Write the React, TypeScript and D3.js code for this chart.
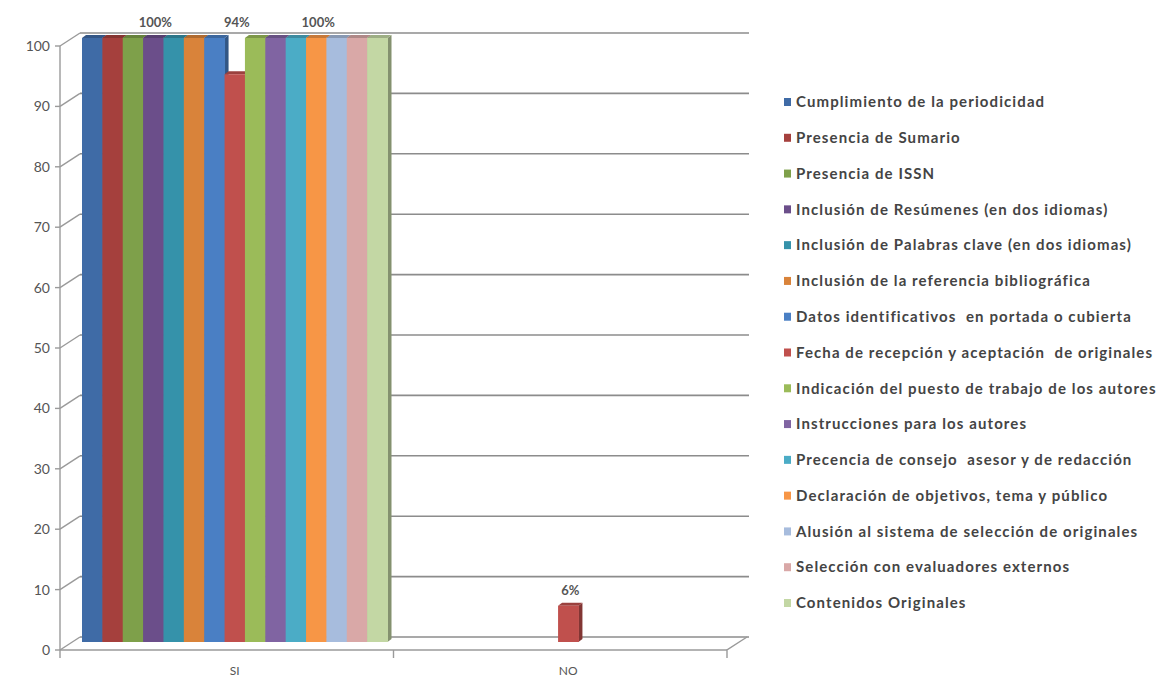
import React, { useRef, useEffect } from 'react';
import * as d3 from 'd3';

const CATEGORIES = ['SI', 'NO'];

const SERIES = [
  'Cumplimiento de la periodicidad',
  'Presencia de Sumario',
  'Presencia de ISSN',
  'Inclusión de Resúmenes (en dos idiomas)',
  'Inclusión de Palabras clave (en dos idiomas)',
  'Inclusión de la referencia bibliográfica',
  'Datos identificativos  en portada o cubierta',
  'Fecha de recepción y aceptación  de originales',
  'Indicación del puesto de trabajo de los autores',
  'Instrucciones para los autores',
  'Precencia de consejo  asesor y de redacción',
  'Declaración de objetivos, tema y público',
  'Alusión al sistema de selección de originales',
  'Selección con evaluadores externos',
  'Contenidos Originales',
];

const SI_VALUES = [100, 100, 100, 100, 100, 100, 100, 94, 100, 100, 100, 100, 100, 100, 100];
const NO_VALUES = [0, 0, 0, 0, 0, 0, 0, 6, 0, 0, 0, 0, 0, 0, 0];

const COLORS = [
  '#3f6ba6', '#a5403d', '#7ea04a', '#6b4e8a', '#3592aa', '#d9833a',
  '#4a7fc4', '#c0504d', '#9bbb59', '#8064a2', '#4bacc6', '#f79646',
  '#a7bcdd', '#d9a8a7', '#c3d7a4',
];

const Y_TICKS = [0, 10, 20, 30, 40, 50, 60, 70, 80, 90, 100];

// data labels kept on the chart (the rest were removed in the original)
const LABELS = [
  { category: 'SI', series: 3, text: '100%' },
  { category: 'SI', series: 7, text: '94%' },
  { category: 'SI', series: 11, text: '100%' },
  { category: 'NO', series: 7, text: '6%' },
];

const App: React.FC = () => {
  const svgRef = useRef<SVGSVGElement>(null);

  useEffect(() => {
    document.body.style.margin = '0';
    if (!svgRef.current) return;
    const svg = d3.select(svgRef.current);
    svg.selectAll('*').remove();

    const width = 1169;
    const height = 682;
    const font = 'Lato, "Open Sans", sans-serif';

    // 3D offsets
    const DX = 20, DY = -13;      // back wall
    const FX = 8, FY = -8;        // bar front face
    const SX = 4, SY = -3;        // bar depth

    const values: Record<string, number[]> = { SI: SI_VALUES, NO: NO_VALUES };

    const x0 = d3.scaleBand<string>().domain(CATEGORIES).range([60, 727]);
    const x1 = d3.scaleBand<string>()
      .domain(SERIES)
      .range([14, x0.bandwidth() - 14]);
    const y = d3.scaleLinear().domain([0, 100]).range([650, 46]);

    const [xl, xr] = x0.range();
    const grid = '#8c8c8c';

    svg.attr('width', width).attr('height', height)
      .style('background', '#fff');

    // back wall gridlines
    svg.append('g')
      .selectAll('line')
      .data(Y_TICKS)
      .join('line')
      .attr('x1', xl + DX).attr('x2', xr + DX + 2)
      .attr('y1', d => y(d) + DY).attr('y2', d => y(d) + DY)
      .attr('stroke', grid).attr('stroke-width', 1.6);

    // side wall diagonals + axis ticks
    const side = svg.append('g').attr('stroke', '#9a9a9a').attr('stroke-width', 1.4).attr('fill', 'none');
    Y_TICKS.forEach(t => {
      side.append('line')
        .attr('x1', xl).attr('y1', y(t))
        .attr('x2', xl + DX).attr('y2', y(t) + DY);
      side.append('line')
        .attr('x1', xl - 5).attr('y1', y(t))
        .attr('x2', xl).attr('y2', y(t));
    });
    side.append('line')
      .attr('x1', xl).attr('x2', xl)
      .attr('y1', y(100)).attr('y2', y(0) + 8);

    // floor front edge and right edge
    side.append('line')
      .attr('x1', xl).attr('x2', xr)
      .attr('y1', y(0)).attr('y2', y(0));
    side.append('path')
      .attr('d', `M${xr},${y(0) + 8} L${xr},${y(0)} L${xr + DX},${y(0) + DY}`);
    side.append('line')
      .attr('x1', xl + x0.bandwidth()).attr('x2', xl + x0.bandwidth())
      .attr('y1', y(0)).attr('y2', y(0) + 8);

    // y tick labels
    svg.append('g')
      .selectAll('text')
      .data(Y_TICKS)
      .join('text')
      .attr('x', 50)
      .attr('y', d => y(d))
      .attr('dy', '0.35em')
      .attr('text-anchor', 'end')
      .attr('font-family', font)
      .attr('font-size', 14)
      .attr('fill', '#555')
      .text(d => d);

    // x category labels
    svg.append('g')
      .selectAll('text')
      .data(CATEGORIES)
      .join('text')
      .attr('x', d => x0(d)! + x0.bandwidth() / 2 + FX)
      .attr('y', 671)
      .attr('dy', '0.35em')
      .attr('text-anchor', 'middle')
      .attr('font-family', font)
      .attr('font-size', 12)
      .attr('fill', '#555')
      .text(d => d);

    // bars
    const bars = svg.append('g');
    CATEGORIES.forEach(cat => {
      values[cat].forEach((v, i) => {
        if (v <= 0) return;
        const c = COLORS[i];
        const bx = x0(cat)! + x1(SERIES[i])! + FX;
        const bw = x1.bandwidth();
        const yt = y(v) + FY;
        const yb = y(0) + FY;
        const col = d3.color(c)!;
        bars.append('path')
          .attr('d', `M${bx + bw},${yt} L${bx + bw + SX},${yt + SY} L${bx + bw + SX},${yb + SY} L${bx + bw},${yb}Z`)
          .attr('fill', col.darker(1.1).toString());
        bars.append('path')
          .attr('d', `M${bx},${yt} L${bx + bw},${yt} L${bx + bw + SX},${yt + SY} L${bx + SX},${yt + SY}Z`)
          .attr('fill', col.darker(0.6).toString());
        bars.append('rect')
          .attr('x', bx).attr('y', yt)
          .attr('width', bw + 0.5).attr('height', yb - yt)
          .attr('fill', c);
      });
    });

    // data labels
    svg.append('g')
      .selectAll('text')
      .data(LABELS)
      .join('text')
      .attr('x', d => x0(d.category)! + x1(SERIES[d.series])! + x1.bandwidth() / 2 + FX + 2)
      .attr('y', d => y(d3.max(values[d.category])!) + FY - 11)
      .attr('text-anchor', 'middle')
      .attr('font-family', font)
      .attr('font-size', 13)
      .attr('font-weight', 'bold')
      .attr('fill', '#555')
      .text(d => d.text);

    // legend
    const legend = svg.append('g').attr('transform', 'translate(784, 102)');
    const row = d3.scaleLinear().domain([0, SERIES.length - 1]).range([0, 501]);
    SERIES.forEach((s, i) => {
      const g = legend.append('g').attr('transform', `translate(0, ${row(i)})`);
      g.append('rect')
        .attr('x', 0).attr('y', -4)
        .attr('width', 7).attr('height', 8)
        .attr('fill', COLORS[i]);
      g.append('text')
        .attr('x', 12).attr('y', 0)
        .attr('dy', '0.35em')
        .attr('font-family', font)
        .attr('font-size', 15)
        .attr('font-weight', 'bold')
        .attr('letter-spacing', 1.1)
        .attr('fill', '#444')
        .style('white-space', 'pre')
        .text(s);
    });
  }, []);

  return <svg ref={svgRef} style={{ display: 'block' }} />;
};

export default App;
